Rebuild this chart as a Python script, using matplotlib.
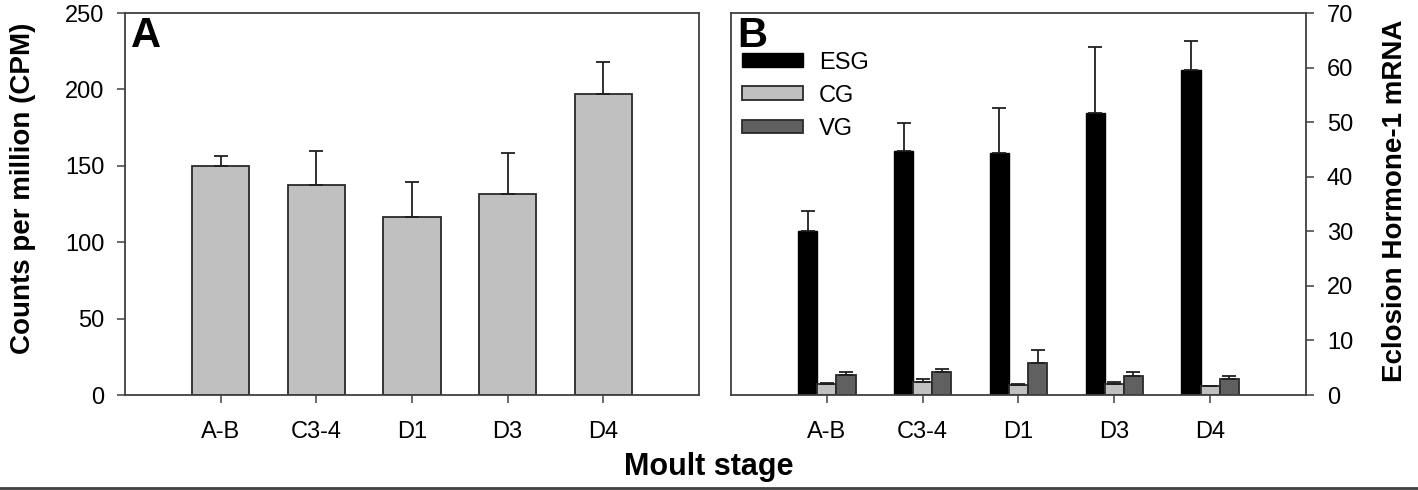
import numpy as np
import matplotlib
matplotlib.use('Agg')
import matplotlib.pyplot as plt
from matplotlib.lines import Line2D

plt.rcParams['font.family'] = ['Liberation Sans', 'DejaVu Sans']

# Data
stages = ['A-B', 'C3-4', 'D1', 'D3', 'D4']

# Panel A: counts per million
cpm_mean = [150.1, 137.6, 116.7, 131.3, 197.0]
cpm_err = [6.0, 22.3, 22.9, 27.3, 20.7]

# Panel B: eclosion hormone-1 mRNA per tissue
esg_mean = [30.0, 44.8, 44.4, 51.6, 59.6]
esg_err = [3.8, 5.0, 8.1, 12.2, 5.3]
cg_mean = [2.0, 2.4, 1.9, 2.1, 1.6]
cg_err = [0.2, 0.6, 0.1, 0.3, 0.1]
vg_mean = [3.7, 4.2, 5.9, 3.5, 3.0]
vg_err = [0.6, 0.5, 2.3, 0.7, 0.4]

spine_col = '#404040'
edge_col = '#2a2a2a'

fig = plt.figure(figsize=(14.18, 4.9), dpi=100)
axA = fig.add_axes([125/1418, 1-395/490, 574/1418, 382/490])
axB = fig.add_axes([731/1418, 1-395/490, 575/1418, 382/490])

x = np.arange(1, len(stages) + 1)
ekw = dict(ecolor='#202020', elinewidth=1.3, capsize=5, capthick=1.3)

# Panel A
axA.bar(x, cpm_mean, width=0.6, color='#c0c0c0', edgecolor=edge_col, linewidth=1.3,
        yerr=[np.zeros(len(x)), cpm_err], error_kw=ekw)
axA.set_xlim(0, 6)
axA.set_ylim(0, 250)
axA.set_yticks(np.arange(0, 251, 50))
axA.text(0.01, 0.993, 'A', transform=axA.transAxes, ha='left', va='top',
         fontsize=30, fontweight='bold')

# Panel B
w = 0.2
axB.bar(x - w, esg_mean, width=w, color='black', edgecolor='black', linewidth=1.0,
        yerr=[np.zeros(len(x)), esg_err], error_kw=ekw, label='ESG')
axB.bar(x, cg_mean, width=w, color='#c0c0c0', edgecolor=edge_col, linewidth=1.3,
        yerr=[np.zeros(len(x)), cg_err], error_kw=ekw, label='CG')
axB.bar(x + w, vg_mean, width=w, color='#606060', edgecolor=edge_col, linewidth=1.3,
        yerr=[np.zeros(len(x)), vg_err], error_kw=ekw, label='VG')
axB.set_xlim(0, 6)
axB.set_ylim(0, 70)
axB.set_yticks(np.arange(0, 71, 10))
axB.yaxis.tick_right()
axB.text(0.01, 0.993, 'B', transform=axB.transAxes, ha='left', va='top',
         fontsize=30, fontweight='bold')
axB.legend(loc='upper left', bbox_to_anchor=(0.0, 0.927), frameon=False, fontsize=17,
           handlelength=2.6, handleheight=0.5, handletextpad=0.68, labelspacing=0.47,
           borderpad=0, borderaxespad=0.45)

for ax in (axA, axB):
    ax.set_xticks(x)
    ax.set_xticklabels(stages)
    for s in ax.spines.values():
        s.set_color(spine_col)
        s.set_linewidth(1.3)
    ax.tick_params(axis='x', length=6, width=1.1, color=spine_col, pad=13, labelsize=17)
    ax.tick_params(axis='y', length=6, width=1.1, color=spine_col, pad=9, labelsize=17)

fig.text(23/1418, 1-188/490, 'Counts per million (CPM)', rotation=90, ha='center',
         va='center', fontsize=20, fontweight='bold')
fig.text(1395/1418, 1-201/490, 'Eclosion Hormone-1 mRNA', rotation=90, ha='center',
         va='center', fontsize=20, fontweight='bold')
fig.text(0.5, 1-467/490, 'Moult stage', ha='center', va='center', fontsize=22,
         fontweight='bold')

# thin rule along the bottom of the figure
fig.add_artist(Line2D([0, 1], [0.004, 0.004], transform=fig.transFigure,
                      color=spine_col, linewidth=2))

fig.savefig('out.png', dpi=100)
